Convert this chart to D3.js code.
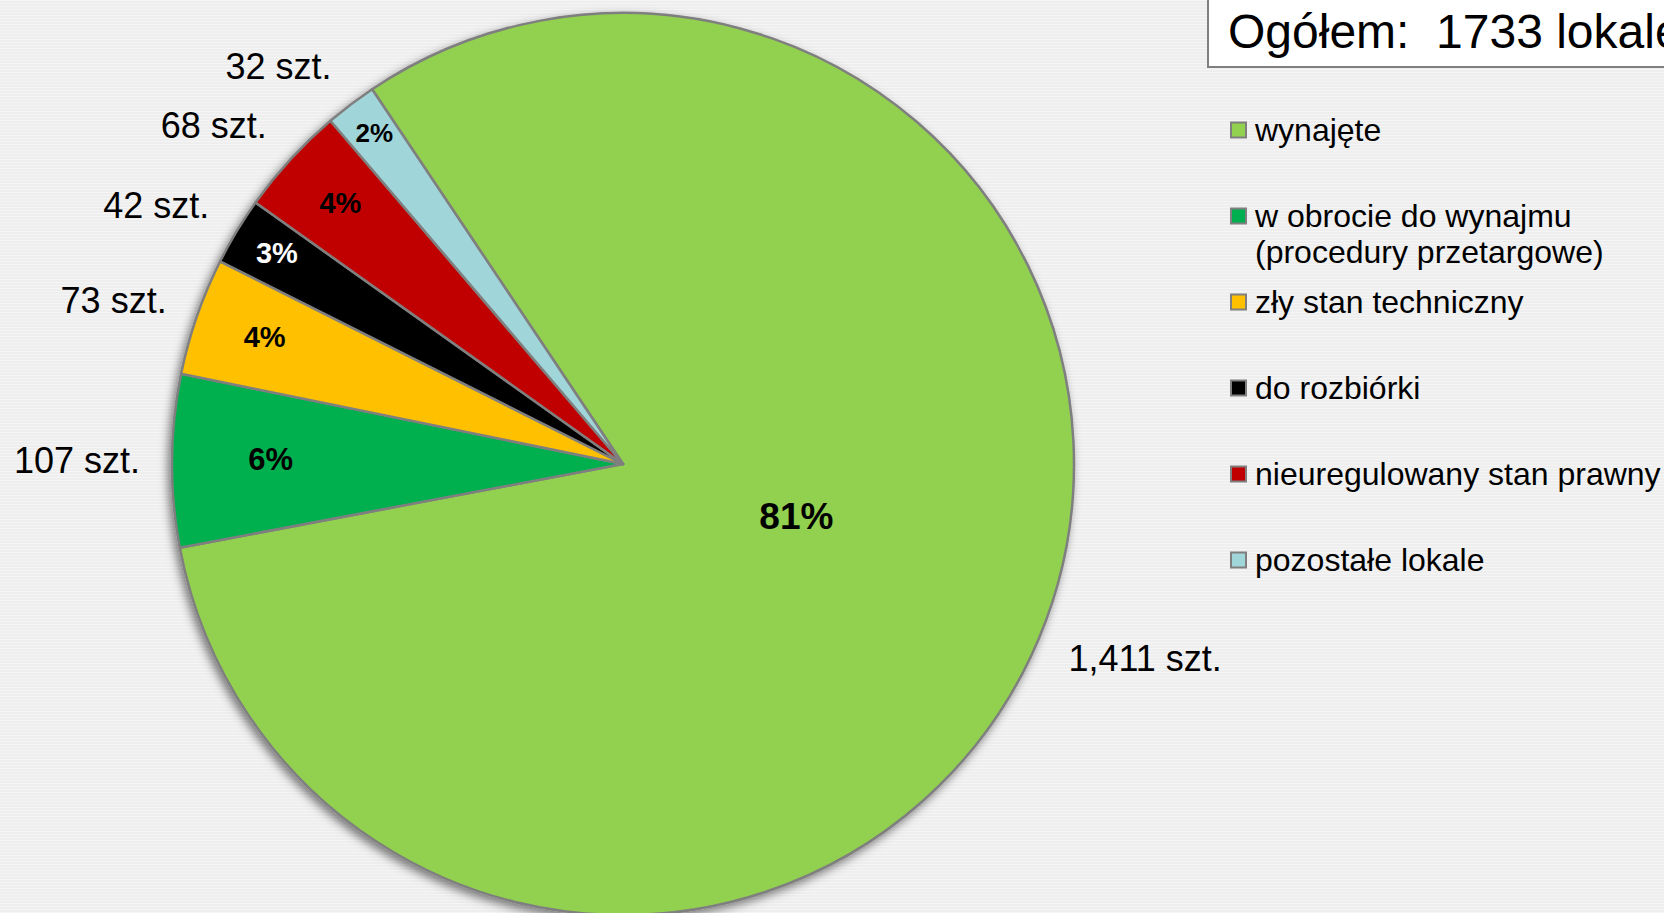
<!DOCTYPE html>
<html>
<head>
<meta charset="utf-8">
<script src="https://cdn.jsdelivr.net/npm/d3@7"></script>
<style>
  html, body { margin: 0; padding: 0; overflow: hidden; background: #efefef; }
  svg { display: block; font-family: "Liberation Sans", Arial, sans-serif; }
</style>
</head>
<body>
<svg width="1664" height="913"></svg>
<script>
const categories = [
  ['wynajęte'],
  ['w obrocie do wynajmu', '(procedury przetargowe)'],
  ['zły stan techniczny'],
  ['do rozbiórki'],
  ['nieuregulowany stan prawny'],
  ['pozostałe lokale']
];
const values = [1411, 107, 73, 42, 68, 32];
const percentLabels = ['81%', '6%', '4%', '3%', '4%', '2%'];
const colors = ['#92d050', '#00b050', '#ffc000', '#000000', '#c00000', '#a0d5d9'];

const width = 1664, height = 913;
const cx = 623, cy = 464, radius = 451;
const startAngle = -33.8 * Math.PI / 180;
const total = d3.sum(values);

const svg = d3.select('svg');
const defs = svg.append('defs');

const pattern = defs.append('pattern')
    .attr('id', 'stripes')
    .attr('patternUnits', 'userSpaceOnUse')
    .attr('width', 8)
    .attr('height', 3);
pattern.append('rect').attr('width', 8).attr('height', 3).attr('fill', '#eeeeee');
pattern.append('rect').attr('width', 8).attr('height', 1).attr('fill', '#f5f5f5');

const shadow = defs.append('filter')
    .attr('id', 'shadow')
    .attr('x', '-10%').attr('y', '-10%')
    .attr('width', '120%').attr('height', '120%');
shadow.append('feDropShadow')
    .attr('dx', -3)
    .attr('dy', 4)
    .attr('stdDeviation', 5)
    .attr('flood-color', '#000')
    .attr('flood-opacity', 0.5);

svg.append('rect')
    .attr('width', width)
    .attr('height', height)
    .attr('fill', 'url(#stripes)');

const pie = d3.pie()
    .sort(null)
    .value(d => d)
    .startAngle(startAngle)
    .endAngle(startAngle + 2 * Math.PI);

const arcs = pie(values);
const arc = d3.arc().innerRadius(0).outerRadius(radius);

const g = svg.append('g')
    .attr('transform', `translate(${cx},${cy})`);

g.append('g')
    .attr('filter', 'url(#shadow)')
  .selectAll('path')
  .data(arcs)
  .enter()
  .append('path')
    .attr('d', arc)
    .attr('fill', (d, i) => colors[i])
    .attr('stroke', '#7f7f7f')
    .attr('stroke-width', 2.5)
    .attr('stroke-linejoin', 'round');

// percentage labels inside the slices
arcs.forEach((d, i) => {
  const span = d.endAngle - d.startAngle;
  const mid = (d.startAngle + d.endAngle) / 2;
  const big = span > Math.PI;
  const ratio = big ? 0.4 : Math.min(0.93, 0.97 - 0.0085 * span * 180 / Math.PI);
  const r = radius * ratio;
  const size = big ? 37 : (d.value / total < 0.02 ? 26 : (d.value / total > 0.05 ? 31 : 29));
  const lx = big ? Math.sin(mid) * r + 7 : Math.sin(mid) * r;
  const ly = big ? -Math.cos(mid) * r - 18 : -Math.cos(mid) * r - 3;
  g.append('text')
      .attr('x', lx)
      .attr('y', ly + size * 0.36)
      .attr('text-anchor', 'middle')
      .attr('font-size', size)
      .attr('font-weight', 'bold')
      .attr('fill', colors[i] === '#000000' ? '#ffffff' : '#000000')
      .text(percentLabels[i]);
});

// value labels outside the slices
const fmt = d3.format(',');
const labelR = 483;
const capH = 26;
arcs.forEach((d, i) => {
  const mid = (d.startAngle + d.endAngle) / 2;
  const s = Math.sin(mid), c = Math.cos(mid);
  const px = s * labelR, py = -c * labelR;
  const t = g.append('text')
      .attr('font-size', 36)
      .attr('fill', '#000')
      .text(`${fmt(d.value)} szt.`);
  const w = t.node().getComputedTextLength();
  const kx = Math.max(-1, Math.min(1, s * 1.7));
  const ky = Math.max(-1, Math.min(1, c * 1.41));
  const bx = px + kx * w / 2;
  const by = py - ky * capH / 2;
  t.attr('x', bx - w / 2).attr('y', by + capH / 2);
});

// title box
svg.append('rect')
    .attr('x', 1208)
    .attr('y', -3)
    .attr('width', 520)
    .attr('height', 70)
    .attr('fill', '#ffffff')
    .attr('stroke', '#7f7f7f')
    .attr('stroke-width', 2);

svg.append('text')
    .attr('x', 1228)
    .attr('y', 48)
    .attr('font-size', 48)
    .attr('fill', '#000')
    .style('white-space', 'pre')
    .text(`Ogółem:  ${total} lokale`);

// legend
const legend = svg.append('g');
categories.forEach((lines, i) => {
  const y0 = 130 + i * 86;
  legend.append('rect')
      .attr('x', 1231)
      .attr('y', y0 - 7.5)
      .attr('width', 15)
      .attr('height', 15)
      .attr('fill', colors[i])
      .attr('stroke', '#7f7f7f')
      .attr('stroke-width', 2);
  const t = legend.append('text')
      .attr('x', 1255)
      .attr('y', y0 + 11)
      .attr('font-size', 32)
      .attr('fill', '#000');
  lines.forEach((line, j) => {
    t.append('tspan')
        .attr('x', 1255)
        .attr('dy', j === 0 ? 0 : 36)
        .text(line);
  });
});
</script>
</body>
</html>
